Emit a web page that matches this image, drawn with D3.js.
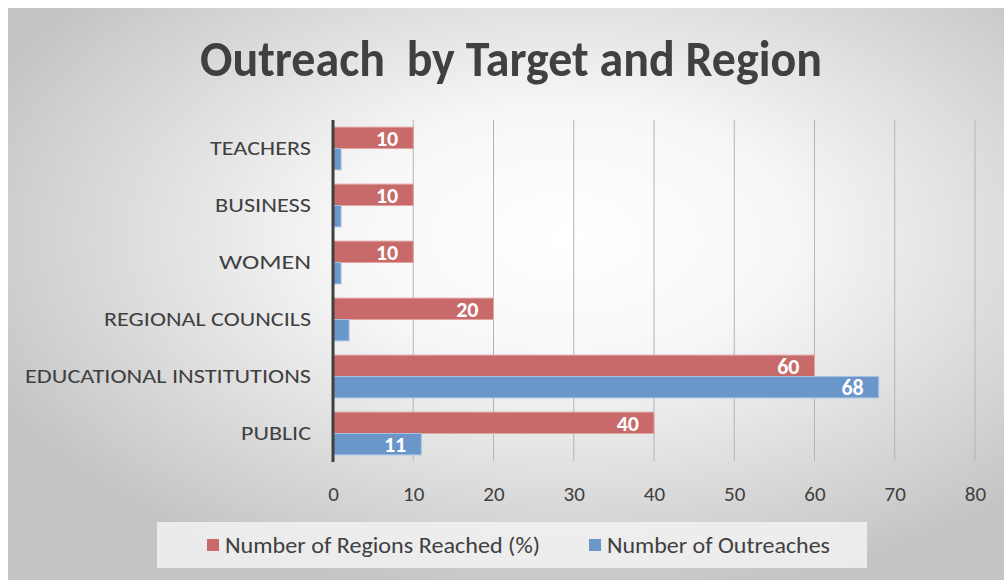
<!doctype html>
<html lang='en'>

<head>
    <meta charset='UTF-8'>
    <title>Outreach by Target and Region</title>
    <style>
        html,
        body {
            margin: 0;
            background: #ffffff;
        }

        svg {
            display: block;
            font-family: Carlito, Lato, "Open Sans", sans-serif;
        }
    </style>
</head>

<body>
    <script src='https://cdn.jsdelivr.net/npm/d3@7/dist/d3.min.js'></script>
    <div class='chart'></div>
    <script>
        // categories top to bottom
        const categories = ['TEACHERS', 'BUSINESS', 'WOMEN', 'REGIONAL COUNCILS',
            'EDUCATIONAL INSTITUTIONS', 'PUBLIC'];
        const regionsReached = [10, 10, 10, 20, 60, 40];
        const outreaches = [1, 1, 1, 2, 68, 11];
        const seriesNames = ['Number of Regions Reached (%)', 'Number of Outreaches'];
        const xTicks = [0, 10, 20, 30, 40, 50, 60, 70, 80];

        const config = {
            width: 1004,
            height: 580,
            plot: { pLeft: 333, pRight: 975, pTop: 120, pBottom: 462 },
            colors: ['#c96a6a', '#6a96c9'],
            strokes: ['#e2a3a3', '#a5c2e3'],
            textColor: '#404040'
        };

        const svg = d3.select('.chart')
            .append('svg')
            .attr('width', config.width)
            .attr('height', config.height);

        // background gradient
        const defs = svg.append('defs');
        const grad = defs.append('radialGradient')
            .attr('id', 'bg')
            .attr('cx', '0.56').attr('cy', '0.40')
            .attr('r', '0.64');
        grad.append('stop').attr('offset', '0').attr('stop-color', '#ffffff');
        grad.append('stop').attr('offset', '0.35').attr('stop-color', '#f7f7f7');
        grad.append('stop').attr('offset', '1').attr('stop-color', '#c4c4c4');

        svg.append('rect')
            .attr('x', 8).attr('y', 8)
            .attr('width', config.width - 8)
            .attr('height', config.height - 8)
            .attr('fill', 'url(#bg)');

        // the original font is narrower than what we have, so pin text widths
        function fit(sel, width) {
            sel.attr('textLength', width)
                .attr('lengthAdjust', 'spacingAndGlyphs');
        }

        // title
        svg.append('text')
            .attr('x', 511)
            .attr('y', 76)
            .attr('text-anchor', 'middle')
            .style('font-size', '50px')
            .style('font-weight', 'bold')
            .style('fill', config.textColor)
            .style('white-space', 'pre')
            .text('Outreach  by Target and Region')
            .call(fit, 622);

        const { pLeft, pRight, pTop, pBottom } = config.plot;

        const x = d3.scaleLinear()
            .domain([0, 80])
            .range([pLeft, pRight]);

        const y = d3.scaleBand()
            .domain(categories)
            .range([pTop, pBottom])
            .paddingInner(0.25)
            .paddingOuter(0.125);

        const inner = d3.scaleBand()
            .domain([0, 1])
            .range([0, y.bandwidth()]);

        // gridlines
        svg.append('g')
            .selectAll('line')
            .data(xTicks.slice(1))
            .join('line')
            .attr('x1', (d) => x(d)).attr('x2', (d) => x(d))
            .attr('y1', pTop).attr('y2', pBottom - 1)
            .attr('stroke', '#b4b4b4')
            .attr('stroke-width', 1);

        // x axis labels
        const xAxis = d3.axisBottom(x)
            .tickValues(xTicks)
            .tickSize(0)
            .tickPadding(0);

        const xg = svg.append('g')
            .attr('transform', 'translate(0,' + (pBottom + 39) + ')')
            .call(xAxis);
        xg.select('.domain').remove();
        xg.selectAll('text')
            .attr('dy', 0)
            .style('font-size', '21px')
            .style('font-family', 'Carlito, Lato, "Open Sans", sans-serif')
            .style('fill', config.textColor);

        // bars
        const seriesData = [regionsReached, outreaches];

        seriesData.forEach((values, s) => {
            const g = svg.append('g');
            const rows = categories.map((c, i) => ({ cat: c, value: values[i] }));

            g.selectAll('rect')
                .data(rows)
                .join('rect')
                .attr('x', x(0))
                .attr('y', (d) => y(d.cat) + inner(s))
                .attr('width', (d) => x(d.value) - x(0))
                .attr('height', inner.bandwidth())
                .attr('fill', config.colors[s])
                .attr('stroke', config.strokes[s])
                .attr('stroke-width', 1);

            g.selectAll('text')
                .data(rows.filter((d) => d.value >= 5))
                .join('text')
                .attr('x', (d) => x(d.value) - 15)
                .attr('y', (d) => y(d.cat) + inner(s) + inner.bandwidth() / 2)
                .attr('dy', '0.37em')
                .attr('text-anchor', 'end')
                .style('font-size', '22px')
                .style('font-weight', 'bold')
                .style('fill', '#ffffff')
                .text((d) => d.value);
        });

        // y axis line and labels
        svg.append('line')
            .attr('x1', pLeft).attr('x2', pLeft)
            .attr('y1', pTop).attr('y2', pBottom)
            .attr('stroke', '#404040')
            .attr('stroke-width', 3);

        const labelWidths = {
            'TEACHERS': 101, 'BUSINESS': 96, 'WOMEN': 92,
            'REGIONAL COUNCILS': 207, 'EDUCATIONAL INSTITUTIONS': 286, 'PUBLIC': 70
        };

        svg.append('g')
            .selectAll('text')
            .data(categories)
            .join('text')
            .attr('x', 311)
            .attr('y', (d) => y(d) + y.bandwidth() / 2 - 1)
            .attr('dy', '0.36em')
            .attr('text-anchor', 'end')
            .style('font-size', '21px')
            .style('fill', config.textColor)
            .text((d) => d)
            .each(function (d) {
                d3.select(this).call(fit, labelWidths[d]);
            });

        // legend
        svg.append('rect')
            .attr('x', 157).attr('y', 522)
            .attr('width', 710).attr('height', 46)
            .attr('fill', '#f2f2f2')
            .attr('fill-opacity', 0.85);

        const legendItems = [
            { name: seriesNames[0], color: config.colors[0], lx: 207, w: 315 },
            { name: seriesNames[1], color: config.colors[1], lx: 589, w: 223 }
        ];

        const lg = svg.append('g')
            .selectAll('g')
            .data(legendItems)
            .join('g')
            .attr('transform', (d) => 'translate(' + d.lx + ',545)');

        lg.append('rect')
            .attr('x', 0).attr('y', -6)
            .attr('width', 12).attr('height', 12)
            .attr('fill', (d) => d.color);

        lg.append('text')
            .attr('x', 18)
            .attr('y', 0)
            .attr('dy', '0.36em')
            .style('font-size', '22px')
            .style('fill', config.textColor)
            .text((d) => d.name)
            .each(function (d) {
                d3.select(this).call(fit, d.w);
            });
    </script>
</body>
</html>
